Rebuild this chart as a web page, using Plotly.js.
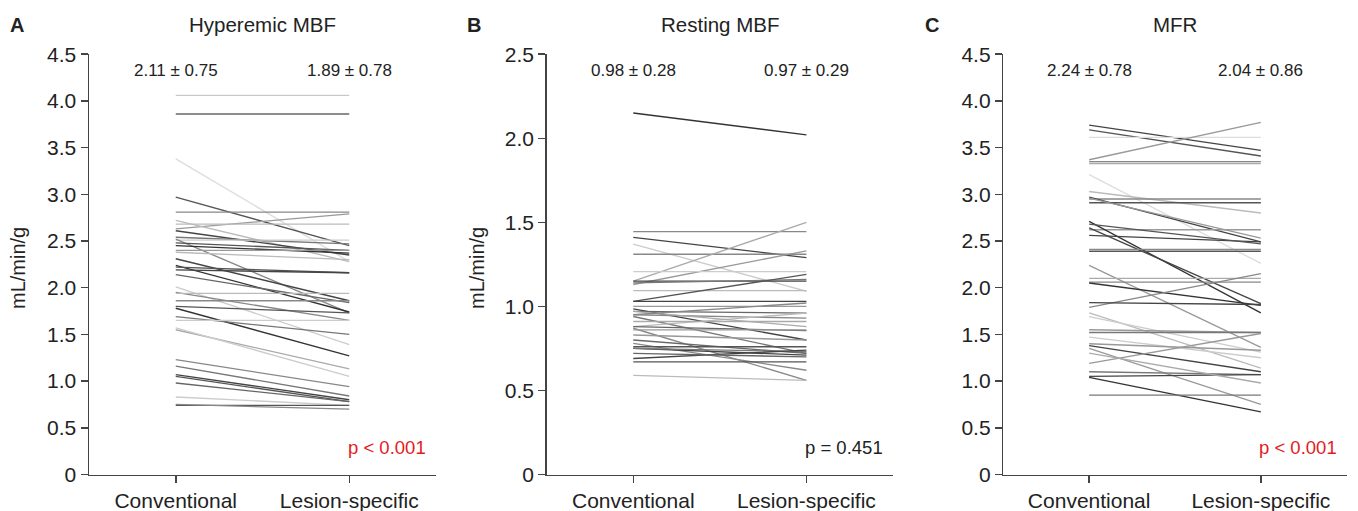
<!DOCTYPE html>
<html>
<head>
<meta charset="utf-8">
<script src="https://cdn.plot.ly/plotly-3.0.1.min.js"></script>
<style>html,body{margin:0;padding:0;background:#fff}#chart{width:1358px;height:511px}</style>
</head>
<body>
<div id="chart"></div>
<script>
// ---------- DATA ----------
var categories = ['Conventional', 'Lesion-specific'];

// Panel A: Hyperemic MBF (mL/min/g)
var hyperConv   = [4.06,3.86,3.38,2.97,2.81,2.63,2.68,2.72,2.61,2.54,2.51,2.52,2.48,2.45,2.40,2.38,2.31,2.24,2.22,2.19,2.14,2.01,1.95,1.94,1.86,1.80,1.78,1.69,1.65,1.55,1.57,1.23,1.16,1.07,1.05,0.98,0.83,0.74,0.75];
var hyperLesion = [4.06,3.86,2.28,2.45,2.81,2.79,2.68,2.28,2.35,2.47,2.51,1.73,2.40,2.37,2.40,2.30,1.86,1.74,2.16,2.16,1.84,1.39,1.65,1.94,1.86,1.73,1.27,1.50,1.65,1.13,1.05,0.94,0.84,0.80,0.78,0.78,0.74,0.74,0.70];

// Panel B: Resting MBF (mL/min/g)
var restConv   = [2.15,1.445,1.41,1.37,1.31,1.15,1.13,1.207,1.15,1.14,1.094,1.03,1.03,1.00,0.985,0.97,0.95,0.94,0.88,0.88,0.87,0.80,0.78,0.75,0.75,0.69,0.67,0.59,0.91,0.83,0.76,0.97,0.86,0.72,0.95];
var restLesion = [2.02,1.445,1.29,1.09,1.31,1.50,1.33,1.207,1.15,1.16,1.094,1.19,1.03,1.00,0.80,0.96,0.93,0.72,0.96,0.856,0.56,0.72,0.62,0.71,0.73,0.74,0.67,0.56,0.91,0.80,0.76,0.88,0.86,0.70,1.02];

// Panel C: MFR
var mfrConv   = [3.74,3.69,3.61,3.37,3.35,3.33,3.21,3.03,2.95,2.91,2.97,2.96,2.62,2.71,2.64,2.56,2.41,2.39,2.24,2.10,2.06,2.05,1.79,1.84,1.73,1.69,1.55,1.52,1.47,1.40,1.38,1.35,1.19,1.10,1.04,1.05,0.85,2.68,1.30];
var mfrLesion = [3.47,3.41,3.61,3.77,3.35,3.33,2.26,2.80,2.95,2.91,2.49,2.53,2.62,1.73,1.83,2.49,2.41,2.39,1.36,2.10,2.06,1.81,2.15,1.82,1.14,1.31,1.52,1.52,1.25,1.33,1.10,0.75,1.51,1.07,0.67,1.07,0.85,2.47,0.98];

// line shades (style)
var shadesA = ['#c8c8c8','#666','#ddd','#555','#888','#999','#bbb','#bbb','#444','#777','#ccc','#888','#555','#333','#999','#bbb','#444','#333','#555','#444','#666','#ccc','#888','#bbb','#888','#555','#333','#777','#ccc','#aaa','#ccc','#888','#777','#444','#555','#666','#ccc','#555','#888'];
var shadesB = ['#333','#888','#444','#ccc','#888','#aaa','#999','#ccc','#444','#777','#bbb','#555','#444','#999','#444','#666','#888','#777','#bbb','#666','#888','#666','#888','#444','#777','#444','#555','#bbb','#aaa','#999','#555','#aaa','#999','#666','#888'];
var shadesC = ['#444','#555','#ddd','#999','#888','#aaa','#ddd','#bbb','#888','#555','#444','#999','#999','#333','#444','#444','#888','#555','#999','#aaa','#888','#333','#888','#444','#bbb','#ccc','#999','#777','#ccc','#999','#444','#999','#999','#777','#333','#444','#777','#555','#aaa'];

var yTickValsA = [0,0.5,1,1.5,2,2.5,3,3.5,4,4.5];
var yTickTextA = ['0','0.5','1.0','1.5','2.0','2.5','3.0','3.5','4.0','4.5'];
var yTickValsB = [0,0.5,1,1.5,2,2.5];
var yTickTextB = ['0','0.5','1.0','1.5','2.0','2.5'];

var titles = ['Hyperemic MBF','Resting MBF','MFR'];
var letters = ['A','B','C'];
var meanTexts = [['2.11 ± 0.75','1.89 ± 0.78'],['0.98 ± 0.28','0.97 ± 0.29'],['2.24 ± 0.78','2.04 ± 0.86']];
var pTexts = ['p < 0.001','p = 0.451','p < 0.001'];

// ---------- BUILD ----------
var traces = [];
function addPanel(conv, les, shades, xa, ya) {
  for (var i = 0; i < conv.length; i++) {
    traces.push({
      type: 'scatter', mode: 'lines',
      x: [0, 1], y: [conv[i], les[i]],
      xaxis: xa, yaxis: ya,
      line: {color: shades[i], width: 1.35},
      hoverinfo: 'skip', showlegend: false
    });
  }
}
addPanel(hyperConv, hyperLesion, shadesA, 'x', 'y');
addPanel(restConv, restLesion, shadesB, 'x2', 'y2');
addPanel(mfrConv, mfrLesion, shadesC, 'x3', 'y3');

var W = 1358, H = 511;
var domX = [[89/W, 436/W],[546.7/W, 893/W],[1003.3/W, 1346.7/W]];
var domY = [(H-474.5)/H, (H-54.2)/H];
var tickFont = {family: 'Liberation Sans, Arial, sans-serif', size: 21, color: '#222'};

function xAxis(i) {
  return {
    domain: domX[i], range: [-0.5, 1.5], tickvals: [0, 1], ticktext: categories,
    showline: true, linecolor: '#444', linewidth: 1.5, ticks: 'outside', ticklen: 7,
    tickcolor: '#444', tickwidth: 1.5, showgrid: false, zeroline: false,
    tickfont: tickFont, anchor: i === 0 ? 'y' : 'y' + (i + 1), fixedrange: true
  };
}
function yAxis(i, maxV, tv, tt) {
  return {
    domain: domY, range: [0, maxV], tickvals: tv, ticktext: tt,
    showline: true, linecolor: '#444', linewidth: 1.5, ticks: 'outside', ticklen: 7,
    tickcolor: '#444', tickwidth: 1.5, showgrid: false, zeroline: false,
    tickfont: tickFont, anchor: i === 0 ? 'x' : 'x' + (i + 1), fixedrange: true
  };
}

var annFont = {family: 'Liberation Sans, Arial, sans-serif', size: 17, color: '#222'};
var annotations = [];
var letterX = [17, 474, 932];
var yTop = [4.5, 2.5, 4.5];
for (var i = 0; i < 3; i++) {
  var xr = i === 0 ? 'x' : 'x' + (i + 1);
  var yr = i === 0 ? 'y' : 'y' + (i + 1);
  annotations.push({text: titles[i], xref: 'paper', yref: 'paper',
    x: (domX[i][0] + domX[i][1]) / 2, y: (H - 24) / H, xanchor: 'center', yanchor: 'middle',
    showarrow: false, font: {family: 'Liberation Sans, Arial, sans-serif', size: 20.5, color: '#222'}});
  annotations.push({text: '<b>' + letters[i] + '</b>', xref: 'paper', yref: 'paper',
    x: letterX[i] / W, y: (H - 25) / H, xanchor: 'center', yanchor: 'middle',
    showarrow: false, font: {family: 'Liberation Sans, Arial, sans-serif', size: 20, color: '#222'}});
  var scale = 420.3 / yTop[i];
  for (var k = 0; k < 2; k++) {
    annotations.push({text: meanTexts[i][k], xref: xr, yref: yr,
      x: k, y: (474.5 - 71) / scale, xanchor: 'center', yanchor: 'middle',
      showarrow: false, font: annFont});
  }
  annotations.push({text: pTexts[i], xref: xr, yref: yr,
    x: 1.455, y: (474.5 - 447) / scale, xanchor: 'right', yanchor: 'middle',
    showarrow: false, font: {family: 'Liberation Sans, Arial, sans-serif', size: 18.5, color: i === 1 ? '#222' : '#e31b23'}});
}
var yTitleX = [18, 477];
for (var j = 0; j < 2; j++) {
  annotations.push({text: 'mL/min/g', xref: 'paper', yref: 'paper',
    x: yTitleX[j] / W, y: (H - 268) / H, xanchor: 'center', yanchor: 'middle', textangle: -90,
    showarrow: false, font: {family: 'Liberation Sans, Arial, sans-serif', size: 20, color: '#222'}});
}

var layout = {
  width: W, height: H, margin: {l: 0, r: 0, t: 0, b: 0},
  paper_bgcolor: '#fff', plot_bgcolor: '#fff', showlegend: false,
  xaxis: xAxis(0), xaxis2: xAxis(1), xaxis3: xAxis(2),
  yaxis: yAxis(0, 4.5, yTickValsA, yTickTextA),
  yaxis2: yAxis(1, 2.5, yTickValsB, yTickTextB),
  yaxis3: yAxis(2, 4.5, yTickValsA, yTickTextA),
  annotations: annotations
};
Plotly.newPlot('chart', traces, layout, {staticPlot: true, displayModeBar: false});
</script>
</body>
</html>
